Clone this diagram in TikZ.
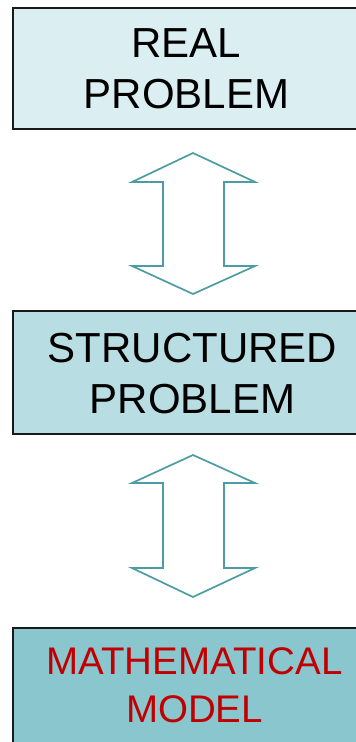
\documentclass[tikz,border=0pt]{standalone}
\usepackage{fontspec}
\setmainfont{Liberation Sans}
\definecolor{boxA}{RGB}{219,238,241}
\definecolor{boxB}{RGB}{184,221,226}
\definecolor{boxC}{RGB}{138,198,206}
\definecolor{arrowline}{RGB}{75,157,163}
\definecolor{modelred}{RGB}{192,0,0}
\begin{document}
\begin{tikzpicture}[x=1pt,y=-1pt,
  stage/.style={draw=black!90,line width=2pt,anchor=north west,inner sep=0pt},
  caption/.style={align=center,inner sep=0pt,font=\fontsize{42}{51.5}\selectfont},
  twoway/.style={draw=arrowline,line width=1.7pt,line join=miter,fill=white}]
  \useasboundingbox (0,0) rectangle (356,742);
  % stage boxes (they run on past the right edge)
  \node[stage,fill=boxA,minimum width=370pt,minimum height=121pt] (real) at (12,7) {};
  \node[stage,fill=boxB,minimum width=370pt,minimum height=123pt] (struct) at (12,310) {};
  \node[stage,fill=boxC,minimum width=370pt,minimum height=140pt] (model) at (12,627) {};
  % box captions
  \node[caption] (realtxt) at (186.5,69) {REAL\\PROBLEM};
  \node[caption] (structtxt) at (192.5,373.5) {STRUCTURED\\PROBLEM};
  \node[caption,text=modelred,font=\fontsize{38.5}{48}\selectfont] (modeltxt) at (194.5,685.5) {MATHEMATICAL\\MODEL};
  % two-headed block arrows between the stages
  \draw[twoway] (193,153) coordinate (a1top) -- (255,182) -- (224,182) -- (224,266)
    -- (255,266) -- (193,294) coordinate (a1bot) -- (132,266) -- (163,266)
    -- (163,182) -- (132,182) -- cycle;
  \draw[twoway] (193,455) coordinate (a2top) -- (255,483) -- (224,483) -- (224,568)
    -- (255,568) -- (193,597) coordinate (a2bot) -- (132,568) -- (163,568)
    -- (163,483) -- (132,483) -- cycle;
\end{tikzpicture}
\end{document}
